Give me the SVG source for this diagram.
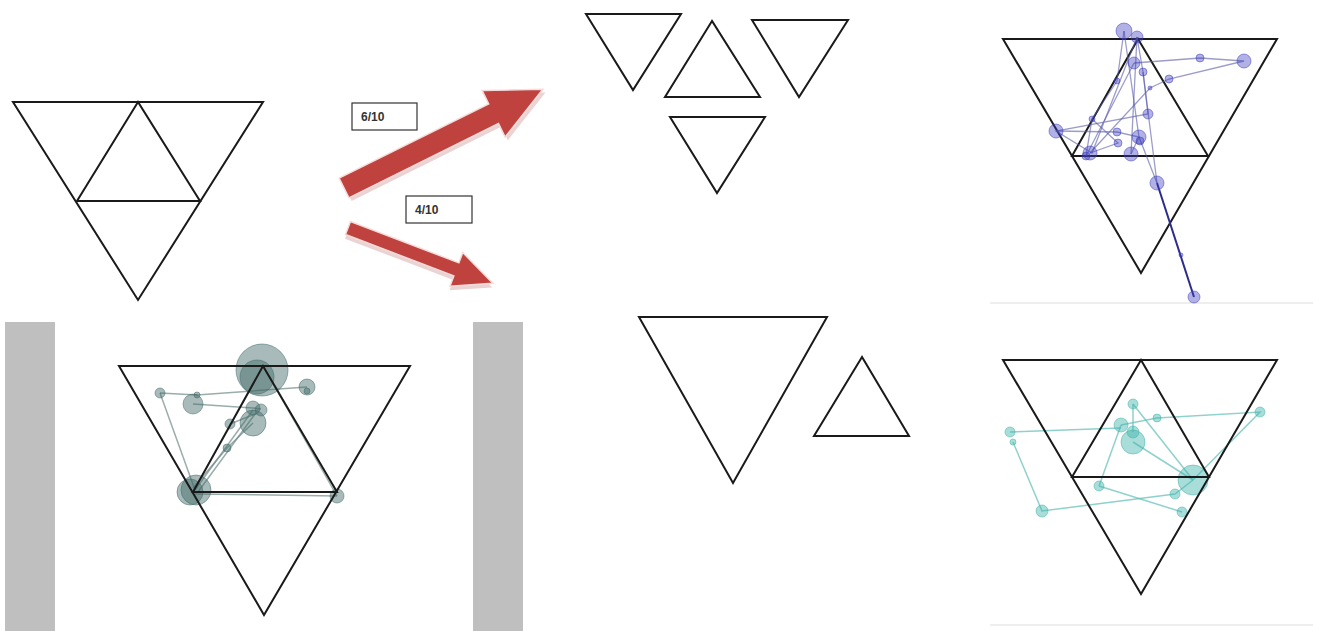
<svg xmlns="http://www.w3.org/2000/svg" width="1317" height="631" viewBox="0 0 1317 631">
<defs>
<style>
.tri{fill:none;stroke:#1a1a1a;stroke-width:2;stroke-linejoin:miter}
.bar{fill:#bfbfbf}
.arrow{fill:#c0423f;stroke:#f5dcdb;stroke-width:1.5}
.shadow{fill:#ecd3d3}
.lbl{fill:#fff;stroke:#333;stroke-width:1.2}
.lt{font-family:"Liberation Sans",Arial,sans-serif;font-size:12px;font-weight:bold;fill:#333}
.g1c{fill:#3f6967;fill-opacity:0.45;stroke:#3f6967;stroke-opacity:0.5;stroke-width:1}
.g1l{fill:none;stroke:#6f8a88;stroke-opacity:0.7;stroke-width:1.5}
.b1c{fill:#3b3bbf;fill-opacity:0.4;stroke:#3b3bbf;stroke-opacity:0.5;stroke-width:1}
.b1l{fill:none;stroke:#5a5aa8;stroke-opacity:0.6;stroke-width:1.3}
.t1c{fill:#3fb3aa;fill-opacity:0.45;stroke:#3fb3aa;stroke-opacity:0.5;stroke-width:1}
.t1l{fill:none;stroke:#5fbdb6;stroke-opacity:0.7;stroke-width:1.5}
.sep{stroke:#eeeeee;stroke-width:2}
</style>
</defs>
<rect width="1317" height="631" fill="#ffffff"/>

<g id="top-left-triangle">
<polygon class="tri" points="13,102 263,102 138,300"/>
<polygon class="tri" points="138,102 77,201 200,201"/>
</g>

<g id="arrows">
<g id="arrow-6-10" transform="translate(344,188) rotate(-26.4)">
<polygon class="shadow" transform="translate(1,4)" points="0,-11 167,-11 167,-26 222,0 167,26 167,11 0,11"/>
<polygon class="arrow" points="0,-11 167,-11 167,-26 222,0 167,26 167,11 0,11"/>
</g>
<g id="arrow-4-10" transform="translate(348,228) rotate(20.9)">
<polygon class="shadow" transform="translate(1,4)" points="0,-7 116,-7 116,-18 155,0 116,18 116,7 0,7"/>
<polygon class="arrow" points="0,-7 116,-7 116,-18 155,0 116,18 116,7 0,7"/>
</g>
</g>

<g id="label-6-10">
<rect class="lbl" x="352" y="103" width="65" height="27"/>
<text class="lt" x="361" y="121">6/10</text>
</g>
<g id="label-4-10">
<rect class="lbl" x="406" y="196" width="66" height="27"/>
<text class="lt" x="415" y="214">4/10</text>
</g>

<g id="top-middle-triangles">
<polygon class="tri" points="586,14 681,14 633,90"/>
<polygon class="tri" points="712,21 665,97 760,97"/>
<polygon class="tri" points="752,20 848,20 799,97"/>
<polygon class="tri" points="670,117 765,117 717,193"/>
</g>

<g id="bottom-middle-triangles">
<polygon class="tri" points="639,317 827,317 733,483"/>
<polygon class="tri" points="862,357 814,436 909,436"/>
</g>

<g id="bottom-left-panel">
<rect class="bar" x="5" y="322" width="50" height="309"/>
<rect class="bar" x="473" y="322" width="50" height="309"/>
<g id="bl-paths">
<polyline class="g1l" points="160,393 197,395 307,387"/>
<polyline class="g1l" points="193,404 253,408 261,409"/>
<polyline class="g1l" points="160,393 195,490"/>
<polyline class="g1l" points="195,490 253,410"/>
<polyline class="g1l" points="198,492 255,414 230,424"/>
<polyline class="g1l" points="193,488 227,448 253,423"/>
<polyline class="g1l" points="263,366 337,496"/>
<polyline class="g1l" points="195,494 337,496"/>
</g>
<circle class="g1c" cx="262" cy="370" r="26"/>
<circle class="g1c" cx="257" cy="377" r="17"/>
<circle class="g1c" cx="307" cy="387" r="8"/>
<circle class="g1c" cx="307" cy="391" r="3"/>
<circle class="g1c" cx="160" cy="393" r="5"/>
<circle class="g1c" cx="197" cy="395" r="3"/>
<circle class="g1c" cx="193" cy="404" r="10"/>
<circle class="g1c" cx="253" cy="408" r="7"/>
<circle class="g1c" cx="261" cy="410" r="6"/>
<circle class="g1c" cx="253" cy="423" r="13"/>
<circle class="g1c" cx="230" cy="424" r="5"/>
<circle class="g1c" cx="227" cy="448" r="4"/>
<circle class="g1c" cx="190" cy="492" r="13"/>
<circle class="g1c" cx="196" cy="490" r="15"/>
<circle class="g1c" cx="337" cy="496" r="7"/>
<polygon class="tri" points="119,366 410,366 264,615"/>
<polygon class="tri" points="263,366 193,492 337,492"/>
</g>

<g id="top-right-panel">
<line class="sep" x1="990" y1="303" x2="1313" y2="303"/>
<polygon class="tri" points="1003,39 1277,39 1141,273"/>
<polygon class="tri" points="1138,39 1072,156 1208,156"/>
<g id="tr-paths">
<polyline class="b1l" points="1124,31 1117,81 1092,119 1086,156"/>
<polyline class="b1l" points="1137,37 1092,153 1056,131 1148,114 1143,72"/>
<polyline class="b1l" points="1124,31 1139,137 1157,183"/>
<polyline class="b1l" points="1137,37 1143,72 1157,183"/>
<polyline class="b1l" points="1134,63 1200,58 1244,61 1169,79 1150,88 1090,153"/>
<polyline class="b1l" points="1056,131 1117,132 1139,137 1131,154"/>
<polyline class="b1l" points="1092,119 1118,143 1090,153"/>
<polyline class="b1l" points="1137,37 1131,154"/>
<polyline class="b1l" points="1134,63 1086,156"/>
<line x1="1157" y1="183" x2="1194" y2="297" stroke="#2c2c8c" stroke-width="2"/>
</g>
<circle class="b1c" cx="1124" cy="31" r="8"/>
<circle class="b1c" cx="1137" cy="37" r="6"/>
<circle class="b1c" cx="1134" cy="63" r="6"/>
<circle class="b1c" cx="1143" cy="72" r="4"/>
<circle class="b1c" cx="1200" cy="58" r="4"/>
<circle class="b1c" cx="1244" cy="61" r="7"/>
<circle class="b1c" cx="1169" cy="79" r="4"/>
<circle class="b1c" cx="1150" cy="88" r="2"/>
<circle class="b1c" cx="1117" cy="81" r="3"/>
<circle class="b1c" cx="1148" cy="114" r="5"/>
<circle class="b1c" cx="1092" cy="119" r="3"/>
<circle class="b1c" cx="1056" cy="131" r="7"/>
<circle class="b1c" cx="1117" cy="132" r="4"/>
<circle class="b1c" cx="1139" cy="137" r="7"/>
<circle class="b1c" cx="1140" cy="141" r="4"/>
<circle class="b1c" cx="1118" cy="143" r="4"/>
<circle class="b1c" cx="1090" cy="153" r="7"/>
<circle class="b1c" cx="1086" cy="156" r="4"/>
<circle class="b1c" cx="1131" cy="154" r="7"/>
<circle class="b1c" cx="1157" cy="183" r="7"/>
<circle class="b1c" cx="1181" cy="255" r="2"/>
<circle class="b1c" cx="1194" cy="297" r="6"/>
</g>

<g id="bottom-right-panel">
<line class="sep" x1="990" y1="625" x2="1313" y2="625"/>
<g id="br-paths">
<polyline class="t1l" points="1010,432 1121,428"/>
<polyline class="t1l" points="1121,425 1157,418 1260,412 1193,480"/>
<polyline class="t1l" points="1133,404 1133,432"/>
<polyline class="t1l" points="1133,404 1193,480"/>
<polyline class="t1l" points="1133,442 1193,480"/>
<polyline class="t1l" points="1013,442 1042,511 1175,494 1193,480"/>
<polyline class="t1l" points="1099,486 1182,512"/>
<polyline class="t1l" points="1099,486 1121,425"/>
</g>
<circle class="t1c" cx="1133" cy="404" r="5"/>
<circle class="t1c" cx="1157" cy="418" r="4"/>
<circle class="t1c" cx="1260" cy="412" r="5"/>
<circle class="t1c" cx="1010" cy="432" r="5"/>
<circle class="t1c" cx="1013" cy="442" r="3"/>
<circle class="t1c" cx="1121" cy="425" r="7"/>
<circle class="t1c" cx="1133" cy="432" r="6"/>
<circle class="t1c" cx="1133" cy="442" r="12"/>
<circle class="t1c" cx="1193" cy="480" r="15"/>
<circle class="t1c" cx="1099" cy="486" r="5"/>
<circle class="t1c" cx="1175" cy="494" r="5"/>
<circle class="t1c" cx="1042" cy="511" r="6"/>
<circle class="t1c" cx="1182" cy="512" r="5"/>
<polygon class="tri" points="1003,360 1277,360 1141,594"/>
<polygon class="tri" points="1141,360 1072,477 1209,477"/>
</g>
</svg>
